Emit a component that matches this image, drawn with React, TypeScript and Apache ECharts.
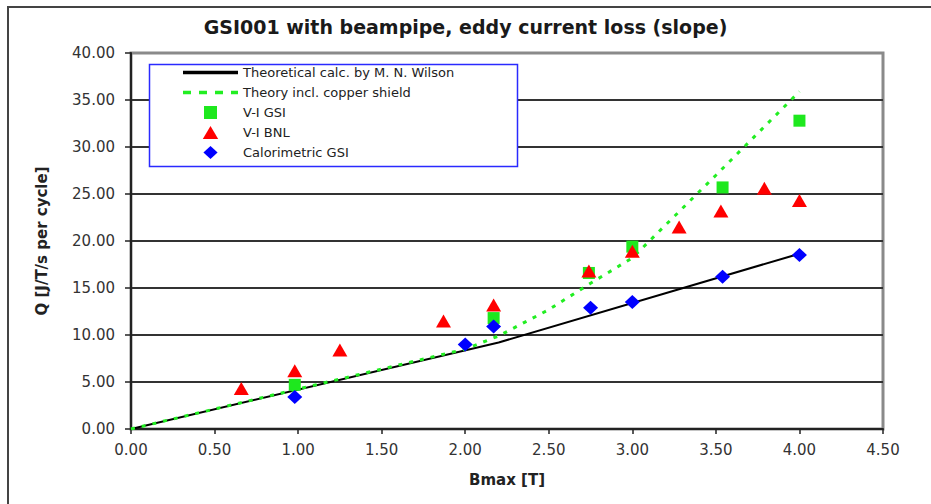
import React, { useEffect, useRef } from "react";
import * as echarts from "echarts";

const TITLE = "GSI001 with beampipe, eddy current loss (slope)";
const X_NAME = "Bmax [T]";
const Y_NAME = "Q [J/T/s per cycle]";

const SERIES_NAMES = [
  "Theoretical calc. by M. N. Wilson",
  "Theory incl. copper shield",
  "V-I GSI",
  "V-I BNL",
  "Calorimetric GSI",
];

const theoryX = [0, 2.2, 4.0];
const theoryY = [0, 9.2, 18.65];

const shieldX = [0, 2.0, 2.2, 2.5, 2.75, 3.0, 3.5, 4.0];
const shieldY = [0, 8.5, 9.9, 12.7, 15.5, 18.2, 27.0, 35.9];

const gsiX = [0.98, 2.17, 2.74, 3.0, 3.54, 4.0];
const gsiY = [4.7, 11.8, 16.6, 19.4, 25.7, 32.8];

const bnlX = [0.66, 0.98, 1.25, 1.87, 2.17, 2.74, 3.0, 3.28, 3.53, 3.79, 4.0];
const bnlY = [4.3, 6.2, 8.4, 11.5, 13.2, 16.8, 18.9, 21.5, 23.2, 25.6, 24.3];

const calX = [0.98, 2.0, 2.17, 2.75, 3.0, 3.54, 4.0];
const calY = [3.4, 9.0, 10.9, 12.9, 13.5, 16.2, 18.5];

const pairs = (xs: number[], ys: number[]) => xs.map((x, i) => [x, ys[i]]);

const ICON_SOLID = "path://M0,0H55V3.5H0Z";
const ICON_DASH = "path://M0,0H8V3.5H0Z M16,0H24V3.5H16Z M32,0H40V3.5H32Z M48,0H55V3.5H48Z";
const ICON_SQUARE = "path://M0,0H11V11H0Z";
const ICON_TRIANGLE = "path://M6.5,0L13,11H0Z";
const ICON_DIAMOND = "path://M6,0L12,5.5L6,11L0,5.5Z";

export default function App() {
  const ref = useRef<HTMLDivElement>(null);
  useEffect(() => {
    if (!ref.current) return;
    const chart = echarts.init(ref.current, null, { renderer: "svg" });
    const font = "DejaVu Sans";
    chart.setOption({
      animation: false,
      backgroundColor: "#ffffff",
      title: {
        text: TITLE,
        left: "center",
        top: 12,
        textStyle: { fontFamily: font, fontSize: 19, fontWeight: "bold", color: "#1a1a1a" },
      },
      graphic: [
        {
          type: "rect",
          shape: { x: 8, y: 7, width: 960, height: 560 },
          style: { fill: "none", stroke: "#444", lineWidth: 2 },
          silent: true,
          z: 0,
        },
        {
          type: "rect",
          shape: { x: 149.5, y: 64.5, width: 368, height: 102 },
          style: { fill: "#ffffff", stroke: "#2a2aff", lineWidth: 1.5 },
          silent: true,
          z: 10,
        },
      ],
      legend: {
        orient: "vertical",
        left: 183,
        top: 66,
        padding: 0,
        itemWidth: 55,
        itemHeight: 13,
        itemGap: 7,
        symbolKeepAspect: true,
        z: 20,
        textStyle: { fontFamily: font, fontSize: 13, color: "#222" },
        data: [
          { name: SERIES_NAMES[0], icon: ICON_SOLID },
          { name: SERIES_NAMES[1], icon: ICON_DASH },
          { name: SERIES_NAMES[2], icon: ICON_SQUARE },
          { name: SERIES_NAMES[3], icon: ICON_TRIANGLE },
          { name: SERIES_NAMES[4], icon: ICON_DIAMOND },
        ],
      },
      grid: {
        left: 131,
        right: 48,
        top: 53,
        bottom: 75,
        show: true,
        borderColor: "#8a8a8a",
        borderWidth: 3,
        backgroundColor: "#ffffff",
      },
      xAxis: {
        type: "value",
        min: 0,
        max: 4.5,
        interval: 0.5,
        name: X_NAME,
        nameLocation: "middle",
        nameGap: 43,
        nameTextStyle: { fontFamily: font, fontSize: 15, fontWeight: "bold", color: "#222" },
        axisLine: { show: true, onZero: false, lineStyle: { color: "#222", width: 2 } },
        axisTick: { show: true, length: 5, lineStyle: { color: "#222", width: 1.5 } },
        axisLabel: {
          margin: 13,
          fontFamily: font,
          fontSize: 15,
          color: "#333",
          formatter: (v: number) => v.toFixed(2),
        },
        splitLine: { show: false },
      },
      yAxis: {
        type: "value",
        min: 0,
        max: 40,
        interval: 5,
        name: Y_NAME,
        nameLocation: "middle",
        nameGap: 82,
        nameTextStyle: { fontFamily: font, fontSize: 15, fontWeight: "bold", color: "#222" },
        axisLine: { show: true, onZero: false, lineStyle: { color: "#222", width: 2 } },
        axisTick: { show: true, length: 6, lineStyle: { color: "#222", width: 1.5 } },
        axisLabel: {
          margin: 16,
          fontFamily: font,
          fontSize: 15,
          color: "#333",
          formatter: (v: number) => v.toFixed(2),
        },
        splitLine: {
          show: true,
          showMinLine: false,
          showMaxLine: false,
          lineStyle: { color: "#333", width: 2 },
        },
      },
      series: [
        {
          name: SERIES_NAMES[0],
          type: "line",
          data: pairs(theoryX, theoryY),
          symbol: "none",
          lineStyle: { color: "#000", width: 2 },
          itemStyle: { color: "#000" },
          z: 2,
        },
        {
          name: SERIES_NAMES[1],
          type: "line",
          data: pairs(shieldX, shieldY),
          symbol: "none",
          lineStyle: { color: "#22ee22", width: 3, type: [4, 7] },
          itemStyle: { color: "#22ee22" },
          z: 3,
        },
        {
          name: SERIES_NAMES[2],
          type: "scatter",
          data: pairs(gsiX, gsiY),
          symbol: "rect",
          symbolSize: 12,
          itemStyle: { color: "#1ee81e", opacity: 1 },
          z: 4,
        },
        {
          name: SERIES_NAMES[3],
          type: "scatter",
          data: pairs(bnlX, bnlY),
          symbol: "triangle",
          symbolSize: [15, 13],
          itemStyle: { color: "#ff0000", opacity: 1 },
          z: 5,
        },
        {
          name: SERIES_NAMES[4],
          type: "scatter",
          data: pairs(calX, calY),
          symbol: "diamond",
          symbolSize: [15, 14],
          itemStyle: { color: "#0000ff", opacity: 1 },
          z: 6,
        },
      ],
    });
    return () => chart.dispose();
  }, []);
  return (
    <div
      ref={ref}
      style={{ position: "fixed", left: 0, top: 0, width: 931, height: 504, background: "#fff" }}
    />
  );
}
